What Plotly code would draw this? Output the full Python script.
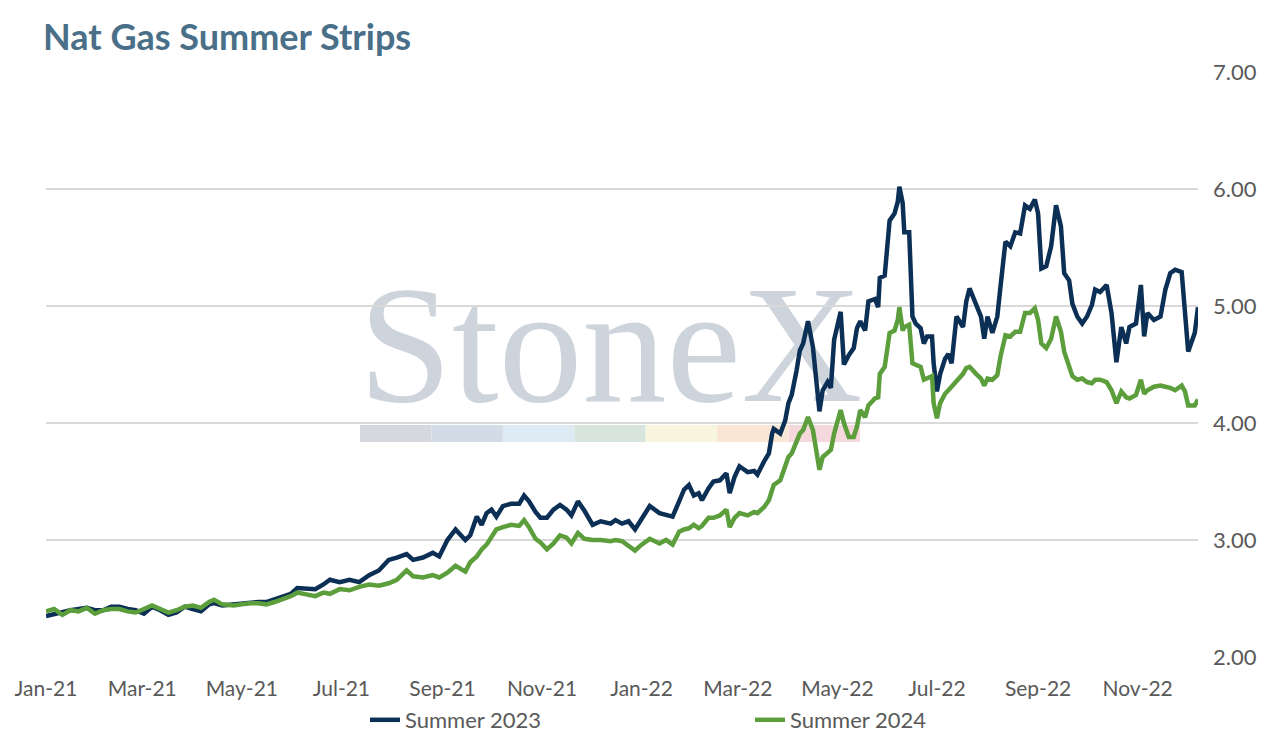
import plotly.graph_objects as go

# Summer strip settlement prices ($/MMBtu)
dates = [
    "2021-01-01", "2021-01-06", "2021-01-11", "2021-01-16", "2021-01-21", "2021-01-26", "2021-01-31",
    "2021-02-05", "2021-02-10", "2021-02-15", "2021-02-20", "2021-02-25",
    "2021-03-02", "2021-03-07", "2021-03-12", "2021-03-17", "2021-03-22", "2021-03-27",
    "2021-04-01", "2021-04-06", "2021-04-11", "2021-04-14", "2021-04-19", "2021-04-26",
    "2021-05-01", "2021-05-06", "2021-05-11", "2021-05-16", "2021-05-21", "2021-05-26", "2021-05-31",
    "2021-06-04", "2021-06-10", "2021-06-15", "2021-06-20", "2021-06-24", "2021-06-30",
    "2021-07-06", "2021-07-12", "2021-07-18", "2021-07-24", "2021-07-30",
    "2021-08-04", "2021-08-10", "2021-08-14", "2021-08-20", "2021-08-26", "2021-08-30",
    "2021-09-04", "2021-09-09", "2021-09-15", "2021-09-18", "2021-09-22", "2021-09-25", "2021-09-28",
    "2021-10-01", "2021-10-04", "2021-10-08", "2021-10-13", "2021-10-18", "2021-10-21", "2021-10-24",
    "2021-10-28", "2021-10-31",
    "2021-11-04", "2021-11-08", "2021-11-12", "2021-11-16", "2021-11-19", "2021-11-23", "2021-11-27",
    "2021-12-02", "2021-12-07", "2021-12-13", "2021-12-16", "2021-12-20", "2021-12-24", "2021-12-28",
    "2022-01-01", "2022-01-06", "2022-01-12", "2022-01-16", "2022-01-20", "2022-01-24", "2022-01-27",
    "2022-01-30",
    "2022-02-02", "2022-02-05", "2022-02-07", "2022-02-11", "2022-02-14", "2022-02-18", "2022-02-22",
    "2022-02-24", "2022-02-27",
    "2022-03-02", "2022-03-07", "2022-03-11", "2022-03-13", "2022-03-17", "2022-03-20", "2022-03-22",
    "2022-03-23", "2022-03-27", "2022-03-30",
    "2022-04-01", "2022-04-03", "2022-04-06", "2022-04-08", "2022-04-10", "2022-04-13", "2022-04-16",
    "2022-04-20", "2022-04-22", "2022-04-25", "2022-04-27", "2022-04-29",
    "2022-05-03", "2022-05-05", "2022-05-08", "2022-05-11", "2022-05-13", "2022-05-15", "2022-05-18",
    "2022-05-20", "2022-05-24", "2022-05-26", "2022-05-27", "2022-05-30",
    "2022-06-02", "2022-06-05", "2022-06-07", "2022-06-08", "2022-06-10", "2022-06-11", "2022-06-14",
    "2022-06-16", "2022-06-18", "2022-06-21", "2022-06-23", "2022-06-25", "2022-06-28", "2022-06-29",
    "2022-07-01", "2022-07-03", "2022-07-06", "2022-07-08", "2022-07-10", "2022-07-13", "2022-07-17",
    "2022-07-19", "2022-07-21", "2022-07-25", "2022-07-28", "2022-07-30",
    "2022-08-01", "2022-08-04", "2022-08-07", "2022-08-09", "2022-08-12", "2022-08-15", "2022-08-18",
    "2022-08-21", "2022-08-24", "2022-08-27", "2022-08-30",
    "2022-09-01", "2022-09-03", "2022-09-06", "2022-09-09", "2022-09-12", "2022-09-15", "2022-09-17",
    "2022-09-20", "2022-09-22", "2022-09-25", "2022-09-28",
    "2022-10-01", "2022-10-04", "2022-10-06", "2022-10-09", "2022-10-13", "2022-10-16", "2022-10-19",
    "2022-10-22", "2022-10-25", "2022-10-27", "2022-10-31",
    "2022-11-03", "2022-11-05", "2022-11-07", "2022-11-11", "2022-11-15", "2022-11-18", "2022-11-21",
    "2022-11-24", "2022-11-28", "2022-11-30",
    "2022-12-02", "2022-12-06", "2022-12-08",
]

summer_2023 = [
    2.35, 2.37, 2.38, 2.40, 2.41, 2.42, 2.40,
    2.40, 2.43, 2.43, 2.41, 2.40,
    2.37, 2.43, 2.40, 2.36, 2.38, 2.43,
    2.41, 2.39, 2.45, 2.46, 2.44, 2.45,
    2.46, 2.46, 2.47, 2.47, 2.49, 2.51, 2.54,
    2.59, 2.58, 2.58, 2.62, 2.66, 2.64,
    2.66, 2.64, 2.70, 2.74, 2.83,
    2.85, 2.88, 2.83, 2.85, 2.89, 2.86,
    3.00, 3.09, 3.00, 3.04, 3.20, 3.13, 3.23,
    3.26, 3.20, 3.29, 3.31, 3.31, 3.38, 3.33,
    3.24, 3.19,
    3.19, 3.26, 3.30, 3.26, 3.21, 3.33, 3.25,
    3.13, 3.16, 3.14, 3.17, 3.14, 3.16, 3.09,
    3.18, 3.29, 3.23, 3.21, 3.20, 3.33, 3.43,
    3.47,
    3.38, 3.40, 3.34, 3.44, 3.50, 3.51, 3.57,
    3.40, 3.54,
    3.63, 3.58, 3.59, 3.56, 3.67, 3.74, 3.91,
    3.95, 3.91, 4.02,
    4.17, 4.24, 4.45, 4.62, 4.68, 4.87, 4.65,
    4.10, 4.28, 4.35, 4.30, 4.71,
    4.95, 4.50, 4.58, 4.64, 4.81, 4.87, 4.79,
    5.04, 5.06, 4.99, 5.24, 5.26,
    5.73, 5.79, 5.89, 6.02, 5.88, 5.63, 5.63,
    4.91, 4.85, 4.81, 4.68, 4.74, 4.74, 4.51,
    4.27, 4.42, 4.55, 4.59, 4.51, 4.91, 4.82,
    5.04, 5.15, 5.02, 4.91, 4.72,
    4.91, 4.77, 4.91, 5.17, 5.55, 5.51, 5.63,
    5.62, 5.86, 5.83, 5.91,
    5.79, 5.32, 5.34, 5.51, 5.86, 5.68, 5.28,
    5.22, 5.02, 4.91, 4.85,
    4.91, 5.01, 5.14, 5.12, 5.18, 4.94, 4.52,
    4.82, 4.68, 4.82, 4.85,
    5.18, 4.74, 4.94, 4.88, 4.91, 5.14, 5.28,
    5.31, 5.29, 4.96,
    4.61, 4.77, 4.99,
]

summer_2024 = [
    2.39, 2.41, 2.36, 2.40, 2.39, 2.42, 2.37,
    2.40, 2.41, 2.41, 2.39, 2.38,
    2.41, 2.44, 2.41, 2.38, 2.40, 2.43,
    2.44, 2.42, 2.47, 2.49, 2.45, 2.44,
    2.45, 2.46, 2.46, 2.45, 2.47, 2.49, 2.52,
    2.55, 2.53, 2.52, 2.55, 2.54, 2.58,
    2.57, 2.60, 2.62, 2.61, 2.63,
    2.66, 2.74, 2.69, 2.68, 2.70, 2.68,
    2.72, 2.78, 2.73, 2.81, 2.86, 2.92, 2.96,
    3.03, 3.09, 3.11, 3.13, 3.12, 3.17, 3.11,
    3.01, 2.98,
    2.92, 2.97, 3.04, 3.02, 2.97, 3.06, 3.01,
    3.00, 3.00, 2.99, 3.00, 2.99, 2.95, 2.91,
    2.96, 3.01, 2.97, 3.00, 2.96, 3.07, 3.09,
    3.10,
    3.13, 3.10, 3.12, 3.19, 3.19, 3.21, 3.26,
    3.11, 3.19,
    3.23, 3.21, 3.24, 3.23, 3.28, 3.34, 3.43,
    3.47, 3.51, 3.63,
    3.71, 3.74, 3.83, 3.91, 3.94, 4.05, 3.94,
    3.60, 3.71, 3.74, 3.77, 3.91,
    4.11, 4.00, 3.88, 3.88, 3.97, 4.11, 4.05,
    4.15, 4.21, 4.22, 4.42, 4.48,
    4.77, 4.79, 4.88, 4.99, 4.79, 4.82, 4.84,
    4.51, 4.50, 4.48, 4.37, 4.38, 4.40, 4.17,
    4.04, 4.17, 4.25, 4.28, 4.31, 4.35, 4.42,
    4.47, 4.48, 4.42, 4.38, 4.32,
    4.38, 4.37, 4.41, 4.57, 4.75, 4.74, 4.78,
    4.78, 4.94, 4.94, 4.98,
    4.88, 4.68, 4.64, 4.72, 4.91, 4.78, 4.61,
    4.48, 4.40, 4.37, 4.38,
    4.35, 4.34, 4.37, 4.37, 4.35, 4.28, 4.17,
    4.27, 4.22, 4.21, 4.24,
    4.37, 4.25, 4.28, 4.31, 4.32, 4.31, 4.30,
    4.28, 4.32, 4.27,
    4.15, 4.15, 4.20,
]

series_names = ["Summer 2023", "Summer 2024"]
series_colors = ["#0c2f55", "#5b9e3b"]

# watermark colour strip under the logo
strip_colors = ["#d5d9de", "#d3dce6", "#deeaf4", "#d7e5dc", "#f8f6df", "#f9e6d4", "#f5d8db"]

fig = go.Figure()
for name, vals, color in zip(series_names, [summer_2023, summer_2024], series_colors):
    fig.add_trace(go.Scatter(x=dates, y=vals, name=name, mode="lines",
                             line=dict(color=color, width=4.5)))

# StoneX watermark, drawn under the grid and the lines
fig.add_shape(type="rect", xref="paper", yref="paper", x0=0.26, x1=0.72, y0=0.466, y1=0.666,
              line_width=0, fillcolor="rgba(0,0,0,0)", layer="below",
              label=dict(text="StoneX", textposition="middle center",
                         font=dict(family="Liberation Serif", size=168, color="#cdd4dc")))
seg = (0.7066 - 0.2726) / len(strip_colors)
for i, c in enumerate(strip_colors):
    fig.add_shape(type="rect", xref="paper", yref="paper",
                  x0=0.2726 + i * seg, x1=0.2726 + (i + 1) * seg, y0=0.3675, y1=0.3966,
                  line_width=0, fillcolor=c, layer="below")

# page body keeps its 8px margin, so the figure is 16px smaller than the window.
# autoexpand off: the legend under the axis must not shrink the plot area
fig.update_layout(
    width=1258, height=728,
    margin=dict(l=38, r=68, t=64, b=79, autoexpand=False),
    plot_bgcolor="white", paper_bgcolor="white",
    font=dict(family="Lato", color="#595959", size=20),
    title=dict(text="<b>Nat Gas Summer Strips</b>", xref="container", yref="container",
               x=0.0278, xanchor="left", y=0.960, yanchor="middle",
               font=dict(family="Lato", size=36, color="#4a6f88")),
    legend=dict(orientation="h", x=0.2769, xanchor="left", y=-0.1077, yanchor="middle",
                entrywidth=340, entrywidthmode="pixels", font=dict(size=22, color="#595959")),
    showlegend=True,
)
fig.update_xaxes(
    range=["2021-01-01", "2022-12-08"],
    tickformat="%b-%y", dtick="M2", tick0="2021-01-01",
    showgrid=False, showline=False, zeroline=False, automargin=False,
    ticks="", ticklabelstandoff=17, tickfont=dict(size=21),
)
fig.update_yaxes(
    side="right", range=[2, 7], dtick=1, tickformat=".2f",
    gridcolor="#d9d9d9", gridwidth=1.5, zeroline=False, showline=False, automargin=False,
    ticks="", ticklabelstandoff=14, tickfont=dict(size=22),
)

fig.write_html("out.html")
